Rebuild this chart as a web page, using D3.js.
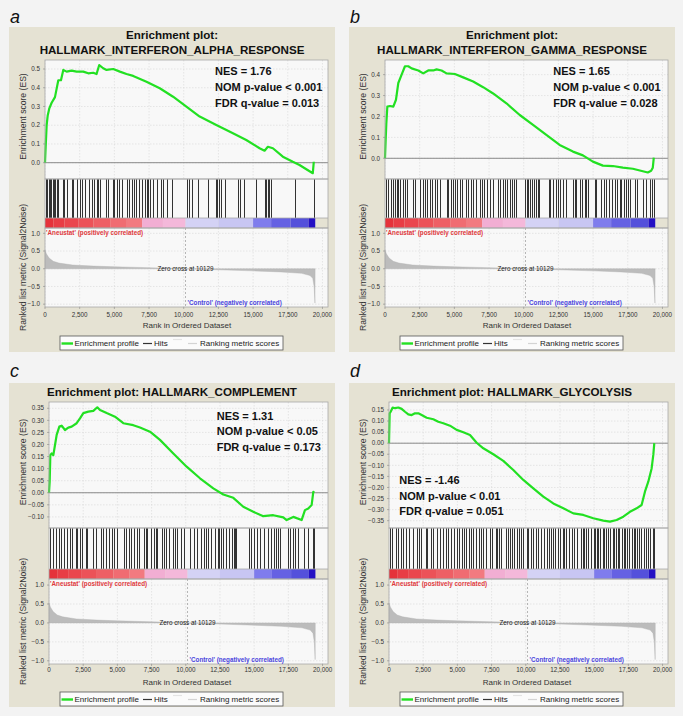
<!DOCTYPE html>
<html><head><meta charset="utf-8">
<script src="https://cdn.jsdelivr.net/npm/d3@7"></script>
<style>
body{margin:0;background:#f3f3f3;}
svg{display:block;font-family:"Liberation Sans",Arial,sans-serif;}
</style>
</head><body>
<svg id="chart" width="683" height="716"></svg>
<script>
// ---------------- DATA ----------------
const xTicks = [0, 2500, 5000, 7500, 10000, 12500, 15000, 17500, 20000];
const metricTicks = [-1.0, -0.5, 0.0, 0.5, 1.0];
const zeroCross = 10129;
const metricScores = [[0,0.53],[100,0.42],[300,0.3],[600,0.21],[1000,0.16],[2000,0.105],[3500,0.075],[5000,0.055],[7500,0.03],[10129,0],[12500,-0.03],[15000,-0.06],[17000,-0.09],[18500,-0.13],[19100,-0.19],[19300,-0.27],[19400,-0.5],[19460,-0.97],[19470,0]];
const colorBands = [[0,600,"#e5323a"],[600,1400,"#e83d45"],[1400,2400,"#ea464d"],[2400,3500,"#ec5258"],[3500,4700,"#ee5f65"],[4700,5900,"#f06c72"],[5900,7000,"#f27a80"],[7000,8500,"#f2aed3"],[8500,10129,"#f4b8da"],[10129,12500,"#d4d2f5"],[12500,15000,"#c8c6f3"],[15000,16300,"#7f7ced"],[16300,17700,"#6561e3"],[17700,19000,"#5450db"],[19000,19480,"#2410c4"]];
const legendLabels = ["Enrichment profile", "Hits", "Ranking metric scores"];
const panelLabels = ["a", "b", "c", "d"];

const titleA = ["Enrichment plot:", "HALLMARK_INTERFERON_ALPHA_RESPONSE"];
const titleB = ["Enrichment plot:", "HALLMARK_INTERFERON_GAMMA_RESPONSE"];
const titleC = ["Enrichment plot: HALLMARK_COMPLEMENT"];
const titleD = ["Enrichment plot: HALLMARK_GLYCOLYSIS"];

const statsA = ["NES = 1.76", "NOM p-value < 0.001", "FDR q-value = 0.013"];
const statsB = ["NES = 1.65", "NOM p-value < 0.001", "FDR q-value = 0.028"];
const statsC = ["NES = 1.31", "NOM p-value < 0.05", "FDR q-value = 0.173"];
const statsD = ["NES = -1.46", "NOM p-value < 0.01", "FDR q-value = 0.051"];

const esTicksA = [0.0, 0.1, 0.2, 0.3, 0.4, 0.5];
const esTicksB = [0.0, 0.1, 0.2, 0.3, 0.4];
const esTicksC = [-0.10, -0.05, 0.00, 0.05, 0.10, 0.15, 0.20, 0.25, 0.30, 0.35];
const esTicksD = [-0.35, -0.30, -0.25, -0.20, -0.15, -0.10, -0.05, 0.00, 0.05, 0.10, 0.15];

const esA = [[0,0],[48,0.085],[120,0.2],[192,0.25],[312,0.29],[480,0.32],[719,0.35],[959,0.44],[1151,0.44],[1319,0.495],[1559,0.486],[1918,0.491],[2278,0.486],[2757,0.486],[3117,0.477],[3477,0.48],[3717,0.473],[3909,0.521],[4196,0.504],[4436,0.495],[4916,0.5],[5396,0.486],[5875,0.473],[6355,0.463],[7314,0.432],[8273,0.397],[9232,0.352],[10191,0.299],[11150,0.246],[12349,0.201],[13548,0.157],[14507,0.121],[15467,0.077],[15827,0.064],[16066,0.085],[16426,0.077],[17146,0.032],[17865,0.005],[18345,-0.012],[19304,-0.056],[19376,0.005]];
const esB = [[0,0],[48,0.088],[96,0.167],[168,0.247],[360,0.25],[600,0.247],[791,0.28],[959,0.36],[1199,0.4],[1439,0.44],[1678,0.44],[1918,0.43],[2398,0.42],[2757,0.406],[3117,0.42],[3477,0.42],[3717,0.425],[4077,0.42],[4436,0.406],[5036,0.403],[5636,0.387],[6355,0.367],[7074,0.34],[7793,0.31],[8753,0.263],[9712,0.207],[10671,0.16],[11630,0.112],[12589,0.064],[13548,0.032],[14267,0.014],[14987,-0.016],[15706,-0.035],[16426,-0.037],[17146,-0.045],[17865,-0.05],[18585,-0.062],[18944,-0.068],[19184,-0.06],[19304,-0.045],[19376,0.003]];
const esC = [[0,0],[49,0.046],[97,0.156],[195,0.163],[317,0.156],[439,0.198],[561,0.24],[756,0.274],[926,0.278],[1170,0.26],[1413,0.27],[1657,0.274],[2022,0.288],[2266,0.308],[2510,0.33],[2875,0.336],[3241,0.339],[3533,0.354],[3728,0.343],[4216,0.33],[4825,0.315],[5434,0.288],[6165,0.28],[6653,0.27],[7384,0.253],[8115,0.219],[9090,0.163],[10064,0.108],[11039,0.06],[12014,0.018],[12745,-0.007],[13476,-0.021],[14207,-0.058],[14938,-0.079],[15669,-0.097],[16400,-0.093],[17131,-0.102],[17375,-0.113],[17862,-0.1],[18471,-0.113],[18715,-0.072],[18959,-0.065],[19203,-0.051],[19325,0.004],[19398,0]];
const esD = [[0,0],[49,0.135],[122,0.142],[268,0.161],[439,0.158],[683,0.161],[926,0.155],[1170,0.142],[1413,0.13],[1657,0.127],[1901,0.135],[2144,0.135],[2388,0.127],[2754,0.115],[3241,0.108],[3606,0.097],[3972,0.09],[4459,0.079],[4947,0.06],[5434,0.049],[5921,0.037],[6409,0.002],[6896,-0.023],[7627,-0.05],[8358,-0.08],[9090,-0.121],[9821,-0.166],[10552,-0.204],[11283,-0.241],[12014,-0.272],[12745,-0.294],[13476,-0.317],[14207,-0.324],[14938,-0.339],[15669,-0.35],[16156,-0.354],[16643,-0.347],[17131,-0.332],[17618,-0.31],[18105,-0.294],[18471,-0.279],[18715,-0.219],[18959,-0.174],[19203,-0.114],[19325,-0.053],[19398,0]];

const hitsA = [72,168,264,360,456,552,648,744,840,960,1272,1368,1560,1920,2040,2280,2520,2640,2880,3192,3360,3528,3720,3840,3960,4392,4560,4872,4968,5160,5352,5520,5880,6072,6240,6408,6552,6792,6960,7200,7320,7440,7560,7752,8040,8328,8472,8760,9120,10200,10392,10632,11040,11760,12312,12408,12552,12720,12960,13920,14040,14328,15192,15840,15960,16056,16152,16320,18000,19368];
const hitsB = [72,240,408,552,720,840,960,1080,1272,1440,1560,1992,2160,2520,2712,2880,3048,3240,3360,3600,3768,3960,4440,4560,4728,4872,5040,5208,5400,5520,5832,6000,6168,6360,6552,6840,6960,7128,7368,7560,7752,8160,8280,8472,8640,8808,9000,9120,9288,9432,10080,10200,10320,10440,10632,10728,10872,11040,11112,11832,11928,12120,12312,12480,12600,12840,13080,13560,13680,13800,14040,14232,14400,14520,14640,15120,15240,15600,15768,15960,16152,16392,16560,16728,16920,17040,17208,17352,17520,17688,18000,18168,18600,18792,19080,19272,19368];
const hitsC = [73,317,488,732,903,1098,1342,1537,1708,1952,2074,2269,2440,2684,2806,3245,3416,3782,3977,4148,4392,4636,4758,4953,5490,5612,5856,6027,6222,6417,6588,6954,7076,7198,7442,7686,7808,7930,8296,8418,8540,8784,9101,9223,9345,9638,9882,10321,10614,10858,11102,11297,11468,11639,11834,12127,12322,12444,12566,12737,12932,13176,13347,13493,13591,13664,14640,14762,15006,15201,15445,15738,16031,16226,16421,16592,16714,16909,17446,17641,17812,17983,18227,18666,18910,19276,19349];
const hitsD = [73,244,488,659,854,1049,1220,1464,1781,2025,2196,2367,2684,2806,3050,3245,3489,3733,3977,4148,4319,4514,4758,4953,5124,5368,5490,5612,5856,6027,6173,6344,6588,6710,6905,7076,7393,7564,7808,7930,8052,8223,8540,8711,8857,9028,9150,9345,9516,9687,9833,10077,10175,10370,10565,10736,10907,11102,11297,11541,11712,11834,11956,12127,12322,12517,12688,12810,12932,13176,13347,13542,13737,14030,14152,14274,14396,14567,14762,14957,15055,15201,15299,15445,15616,15738,15860,16031,16177,16348,16470,16592,16714,16836,17007,17153,17251,17397,17568,17739,17885,17983,18129,18300,18422,18617,18788,18959,19105,19276,19349];

// ---------------- LAYOUT ----------------
const svg = d3.select("#chart");

const rows = [
  {bgY:27, bgH:325, labelY:22.7, titleY:[35,50], esTop:60, esBot:179, hitsBot:218, barBot:228, rankBot:307, rankDomain:[-1.08,1.15], xTickY:314.3, xTitleY:325.3, legY:336},
  {bgY:383, bgH:324, labelY:376.7, titleY:[392], esTop:402, esBot:528, hitsBot:569, barBot:579, rankBot:664, rankDomain:[-1.085,1.16], xTickY:670, xTitleY:681.7, legY:692}
];

const panels = [
  {row:0, ox:0,   left:45, title:titleA, stats:statsA, statsX:215,   statsY:[70.7,87.3,103.3], es:esA, hits:hitsA, ticks:esTicksA, fmt:".1f", dom:[-0.087,0.548]},
  {row:0, ox:340, left:385, title:titleB, stats:statsB, statsX:553.3, statsY:[70.7,87.3,103.3], es:esB, hits:hitsB, ticks:esTicksB, fmt:".1f", dom:[-0.099,0.47]},
  {row:1, ox:0,   left:49, title:titleC, stats:statsC, statsX:216.7, statsY:[415.7,431,446.7], es:esC, hits:hitsC, ticks:esTicksC, fmt:".2f", dom:[-0.146,0.376]},
  {row:1, ox:340, left:389, title:titleD, stats:statsD, statsX:399.3, statsY:[480,495.7,511], es:esD, hits:hitsD, ticks:esTicksD, fmt:".2f", dom:[-0.383,0.186]}
];

panels.forEach((p, i) => {
  const r = rows[p.row];
  const g = svg.append("g");
  const right = 328 + p.ox;
  const L = p.left;
  const x = d3.scaleLinear().domain([0, 20400]).range([L, right]);
  const yES = d3.scaleLinear().domain(p.dom).range([r.esBot, r.esTop]);
  const yR = d3.scaleLinear().domain(r.rankDomain).range([r.rankBot, r.barBot]);

  g.append("rect").attr("x", 9 + p.ox).attr("y", r.bgY).attr("width", 326).attr("height", r.bgH)
    .attr("fill", "#e5e2d3");

  g.append("text").attr("x", 10 + p.ox).attr("y", r.labelY).text(panelLabels[i])
    .attr("font-size", 18).attr("font-style", "italic").attr("fill", "#111");

  const cx = 172 + p.ox;
  p.title.forEach((t, k) => {
    g.append("text").attr("x", cx).attr("y", r.titleY[k]).attr("dy", "0.35em")
      .attr("text-anchor", "middle").attr("font-size", 11.6).attr("font-weight", "bold")
      .attr("fill", "#111").text(t);
  });

  g.append("rect").attr("x", L).attr("y", r.esTop).attr("width", right - L).attr("height", r.esBot - r.esTop).attr("fill", "#f8f8f8");
  g.append("rect").attr("x", L).attr("y", r.esBot).attr("width", right - L).attr("height", r.hitsBot - r.esBot).attr("fill", "#f8f8f8");
  g.append("rect").attr("x", L).attr("y", r.barBot).attr("width", right - L).attr("height", r.rankBot - r.barBot).attr("fill", "#f8f8f8");

  const grid = g.append("g").attr("stroke", "#d6d6d6").attr("stroke-width", 0.6).attr("stroke-dasharray", "1.5,1.5");
  xTicks.forEach(t => {
    grid.append("line").attr("x1", x(t)).attr("x2", x(t)).attr("y1", r.esTop).attr("y2", r.esBot);
    grid.append("line").attr("x1", x(t)).attr("x2", x(t)).attr("y1", r.barBot).attr("y2", r.rankBot);
  });
  p.ticks.forEach(t => {
    grid.append("line").attr("x1", L).attr("x2", right).attr("y1", yES(t)).attr("y2", yES(t));
  });
  metricTicks.forEach(t => {
    grid.append("line").attr("x1", L).attr("x2", right).attr("y1", yR(t)).attr("y2", yR(t));
  });

  g.append("line").attr("x1", L).attr("x2", right).attr("y1", yES(0)).attr("y2", yES(0))
    .attr("stroke", "#8a8a8a").attr("stroke-width", 1);

  const line = d3.line().x(d => x(d[0])).y(d => yES(d[1]));
  g.append("path").datum(p.es).attr("d", line).attr("fill", "none")
    .attr("stroke", "#22e022").attr("stroke-width", 2.2).attr("stroke-linejoin", "round");

  g.append("g").selectAll("line").data(p.hits).join("line")
    .attr("x1", d => Math.round(x(d)) + 0.5).attr("x2", d => Math.round(x(d)) + 0.5)
    .attr("y1", r.esBot).attr("y2", r.hitsBot)
    .attr("stroke", "#111").attr("stroke-width", 1).attr("stroke-opacity", 0.85);

  g.append("g").selectAll("rect").data(colorBands).join("rect")
    .attr("x", d => x(d[0])).attr("width", d => x(d[1]) - x(d[0]))
    .attr("y", r.hitsBot).attr("height", r.barBot - r.hitsBot).attr("fill", d => d[2]);

  const area = d3.area().x(d => x(d[0])).y0(yR(0)).y1(d => yR(d[1]));
  g.append("path").datum(metricScores).attr("d", area).attr("fill", "#bcbcbc").attr("stroke", "#b0b0b0").attr("stroke-width", 0.4);

  g.append("line").attr("x1", x(zeroCross)).attr("x2", x(zeroCross)).attr("y1", r.barBot).attr("y2", r.rankBot)
    .attr("stroke", "#9a9a9a").attr("stroke-width", 0.7).attr("stroke-dasharray", "2,2");

  const bd = g.append("g").attr("fill", "none").attr("stroke", "#a8a8a8").attr("stroke-width", 0.8);
  bd.append("rect").attr("x", L).attr("y", r.esTop).attr("width", right - L).attr("height", r.esBot - r.esTop);
  bd.append("rect").attr("x", L).attr("y", r.esBot).attr("width", right - L).attr("height", r.barBot - r.esBot);
  bd.append("rect").attr("x", L).attr("y", r.barBot).attr("width", right - L).attr("height", r.rankBot - r.barBot);
  bd.append("line").attr("x1", L).attr("x2", right).attr("y1", r.hitsBot).attr("y2", r.hitsBot);

  g.append("text").attr("x", x(zeroCross)).attr("y", yR(0)).attr("dy", "0.35em")
    .attr("text-anchor", "middle").attr("font-size", 6.3).attr("fill", "#222").text("Zero cross at " + zeroCross);
  g.append("text").attr("x", L + 1).attr("y", r.barBot + 4.4).attr("dy", "0.35em")
    .attr("font-size", 6.3).attr("font-weight", "bold").attr("fill", "#e0383c").text("'Aneustat' (positively correlated)");
  g.append("text").attr("x", x(zeroCross) + 2).attr("y", r.rankBot - 4.5).attr("dy", "0.35em")
    .attr("font-size", 6.3).attr("font-weight", "bold").attr("fill", "#4a44dd").text("'Control' (negatively correlated)");

  const tk = g.append("g").attr("font-size", 6.3).attr("fill", "#333").attr("text-anchor", "end");
  const fES = d3.format(p.fmt);
  p.ticks.forEach(t => {
    tk.append("text").attr("x", L - 5).attr("y", yES(t)).attr("dy", "0.35em").text(fES(t));
    g.append("line").attr("x1", L - 2).attr("x2", L).attr("y1", yES(t)).attr("y2", yES(t)).attr("stroke", "#888").attr("stroke-width", 0.6);
  });
  metricTicks.forEach(t => {
    tk.append("text").attr("x", L - 5).attr("y", yR(t)).attr("dy", "0.35em").text(d3.format(".1f")(t));
    g.append("line").attr("x1", L - 2).attr("x2", L).attr("y1", yR(t)).attr("y2", yR(t)).attr("stroke", "#888").attr("stroke-width", 0.6);
  });
  const fX = d3.format(",");
  xTicks.forEach(t => {
    g.append("text").attr("x", x(t)).attr("y", r.xTickY).attr("dy", "0.35em").attr("text-anchor", "middle")
      .attr("font-size", 6.3).attr("fill", "#333").text(fX(t));
    g.append("line").attr("x1", x(t)).attr("x2", x(t)).attr("y1", r.rankBot).attr("y2", r.rankBot + 2).attr("stroke", "#888").attr("stroke-width", 0.6);
  });

  g.append("text").attr("transform", `translate(${23 + p.ox},${(r.esTop + r.esBot) / 2 - 3}) rotate(-90)`)
    .attr("dy", "0.35em").attr("text-anchor", "middle").attr("font-size", 8.6).attr("fill", "#333").text("Enrichment score (ES)");
  g.append("text").attr("transform", `translate(${22.5 + p.ox},${(r.barBot + r.rankBot) / 2}) rotate(-90)`)
    .attr("dy", "0.35em").attr("text-anchor", "middle").attr("font-size", 8.6).attr("fill", "#333").text("Ranked list metric (Signal2Noise)");
  g.append("text").attr("x", 187 + p.ox).attr("y", r.xTitleY).attr("dy", "0.35em").attr("text-anchor", "middle")
    .attr("font-size", 8).attr("fill", "#333").text("Rank in Ordered Dataset");

  p.stats.forEach((s, k) => {
    g.append("text").attr("x", p.statsX).attr("y", p.statsY[k]).attr("dy", "0.35em")
      .attr("font-size", 11).attr("font-weight", "bold").attr("fill", "#111").text(s);
  });

  const lg = g.append("g").attr("transform", `translate(${60 + p.ox},${r.legY})`);
  lg.append("rect").attr("width", 223).attr("height", 14).attr("fill", "#fbfbfb").attr("stroke", "#555").attr("stroke-width", 0.8);
  lg.append("line").attr("x1", 1.5).attr("x2", 13).attr("y1", 7.5).attr("y2", 7.5).attr("stroke", "#22e022").attr("stroke-width", 2.4);
  lg.append("text").attr("x", 14.5).attr("y", 7.3).attr("dy", "0.35em").attr("font-size", 8).attr("fill", "#222").text(legendLabels[0]);
  lg.append("line").attr("x1", 83).attr("x2", 92).attr("y1", 7.5).attr("y2", 7.5).attr("stroke", "#333").attr("stroke-width", 1.2);
  lg.append("text").attr("x", 94).attr("y", 7.3).attr("dy", "0.35em").attr("font-size", 8).attr("fill", "#222").text(legendLabels[1]);
  lg.append("line").attr("x1", 113).attr("x2", 122).attr("y1", 3.5).attr("y2", 3.5).attr("stroke", "#e4e4e4").attr("stroke-width", 1.2);
  lg.append("line").attr("x1", 128).attr("x2", 137).attr("y1", 7.5).attr("y2", 7.5).attr("stroke", "#d4d4d4").attr("stroke-width", 1.2);
  lg.append("text").attr("x", 140).attr("y", 7.3).attr("dy", "0.35em").attr("font-size", 8).attr("fill", "#222").text(legendLabels[2]);
});
</script>
</body></html>
